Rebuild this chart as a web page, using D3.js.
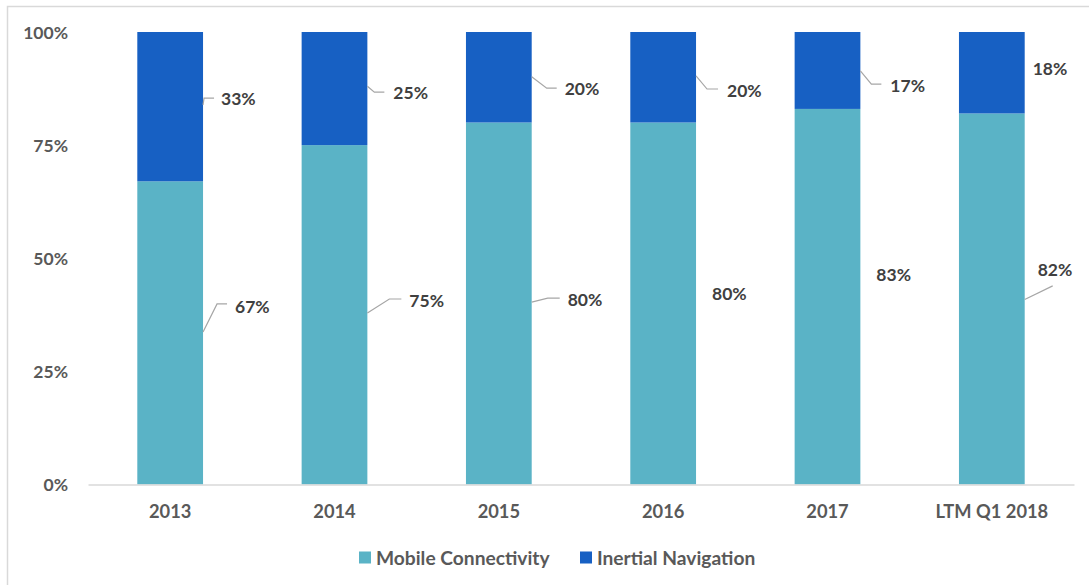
<!DOCTYPE html>
<html>
<head>
<meta charset="utf-8">
<script src="https://cdn.jsdelivr.net/npm/d3@7"></script>
<style>
  html, body { margin: 0; padding: 0; background: #fff; }
  svg { display: block; }
  text { font-family: Lato, "Open Sans", sans-serif; font-weight: 700; }
</style>
</head>
<body>
<svg id="chart" width="1089" height="585"></svg>
<script>
// Revenue mix by segment, share of total
const categories = ["2013", "2014", "2015", "2016", "2017", "LTM Q1 2018"];
const mobileConnectivity = [67, 75, 80, 80, 83, 82];
const inertialNavigation = [33, 25, 20, 20, 17, 18];
const seriesNames = ["Mobile Connectivity", "Inertial Navigation"];
const yTicks = [0, 25, 50, 75, 100];

// Hand-placed data label spots: dx in px from the bar's right edge, "at" on the value axis,
// leader as [dx, value] points (null when the label has no leader line)
const mobileLabelPos = [
  { dx: 32, at: 39.2, leader: [[0, 33.7], [14, 39.9], [24, 39.9]] },
  { dx: 42, at: 40.6, leader: [[0, 37.9], [22, 41.0], [34, 41.0]] },
  { dx: 36, at: 40.8, leader: [[0, 40.3], [16, 41.2], [28, 41.2]] },
  { dx: 16, at: 42.1, leader: null },
  { dx: 16, at: 46.3, leader: null },
  { dx: 13, at: 47.4, leader: [[0, 40.9], [28, 43.9]] }
];
const inertialLabelPos = [
  { dx: 18, at: 85.2, leader: [[0, 83.9], [1, 85.4], [11, 85.4]] },
  { dx: 26, at: 86.5, leader: [[0, 88.0], [7, 86.7], [17, 86.7]] },
  { dx: 33, at: 87.4, leader: [[0, 90.1], [15, 87.6], [25, 87.6]] },
  { dx: 31, at: 87.0, leader: [[0, 90.3], [11, 87.4], [22, 87.4]] },
  { dx: 30, at: 88.1, leader: [[0, 91.4], [11, 88.5], [21, 88.5]] },
  { dx: 8,  at: 92.0, leader: null }
];

const colors = { mobile: "#5AB3C6", inertial: "#1760C3" };

const svg = d3.select("#chart");

// outer frame
svg.append("rect")
  .attr("x", 7.5).attr("y", 6.5)
  .attr("width", 1100).attr("height", 600)
  .attr("fill", "none").attr("stroke", "#D9D9D9").attr("stroke-width", 1.5);

const x = d3.scaleBand()
  .domain(categories)
  .range([88, 1074])
  .paddingInner(0.6)
  .paddingOuter(0.3);

const y = d3.scaleLinear().domain([0, 100]).range([484.5, 32]);

// y axis labels (no axis line)
const yAxis = d3.axisLeft(y)
  .tickValues(yTicks)
  .tickFormat(d => d + "%")
  .tickSize(0)
  .tickPadding(0);
const gy = svg.append("g").attr("transform", "translate(68,0)").call(yAxis);
gy.select(".domain").remove();
gy.selectAll("text")
  .attr("fill", "#595959")
  .style("font-size", "17.5px")
  .attr("dy", "0.36em");

// stacked data
const rows = categories.map((c, i) => ({
  cat: c, mobile: mobileConnectivity[i], inertial: inertialNavigation[i]
}));
const stack = d3.stack().keys(["mobile", "inertial"]);
const layers = stack(rows);

svg.append("g").selectAll("g")
  .data(layers)
  .join("g")
  .attr("fill", d => colors[d.key])
  .selectAll("rect")
  .data(d => d)
  .join("rect")
  .attr("x", d => x(d.data.cat))
  .attr("width", x.bandwidth())
  .attr("y", d => y(d[1]))
  .attr("height", d => y(d[0]) - y(d[1]));

// x axis baseline and labels
const xAxis = d3.axisBottom(x).tickSize(0).tickPadding(0);
const gx = svg.append("g").attr("transform", `translate(0,${y(0)})`).call(xAxis);
gx.select(".domain").attr("stroke", "#D9D9D9").attr("stroke-width", 1.5);
gx.selectAll("text")
  .attr("fill", "#595959")
  .style("font-size", "18.3px")
  .attr("y", 27)
  .attr("dy", "0.36em");

// data labels with leader lines
const line = d3.line();
function drawLabels(values, positions) {
  const g = svg.append("g");
  values.forEach((v, i) => {
    const right = x(categories[i]) + x.bandwidth();
    const p = positions[i];
    if (p.leader) {
      g.append("path")
        .attr("d", line(p.leader.map(([dx, val]) => [right + dx, y(val)])))
        .attr("fill", "none")
        .attr("stroke", "#A6A6A6")
        .attr("stroke-width", 1.2);
    }
    g.append("text")
      .attr("x", right + p.dx)
      .attr("y", y(p.at))
      .attr("dy", "0.36em")
      .attr("fill", "#404040")
      .style("font-size", "17.5px")
      .text(v + "%");
  });
}
drawLabels(mobileConnectivity, mobileLabelPos);
drawLabels(inertialNavigation, inertialLabelPos);

// legend
const legendItems = [
  { name: seriesNames[0], color: colors.mobile, x: 359 },
  { name: seriesNames[1], color: colors.inertial, x: 580 }
];
const lg = svg.append("g");
legendItems.forEach(it => {
  lg.append("rect")
    .attr("x", it.x).attr("y", 551.5)
    .attr("width", 12).attr("height", 12)
    .attr("fill", it.color);
  lg.append("text")
    .attr("x", it.x + 17).attr("y", 558)
    .attr("dy", "0.36em")
    .attr("fill", "#595959")
    .style("font-size", "19.2px")
    .text(it.name);
});
</script>
</body>
</html>
